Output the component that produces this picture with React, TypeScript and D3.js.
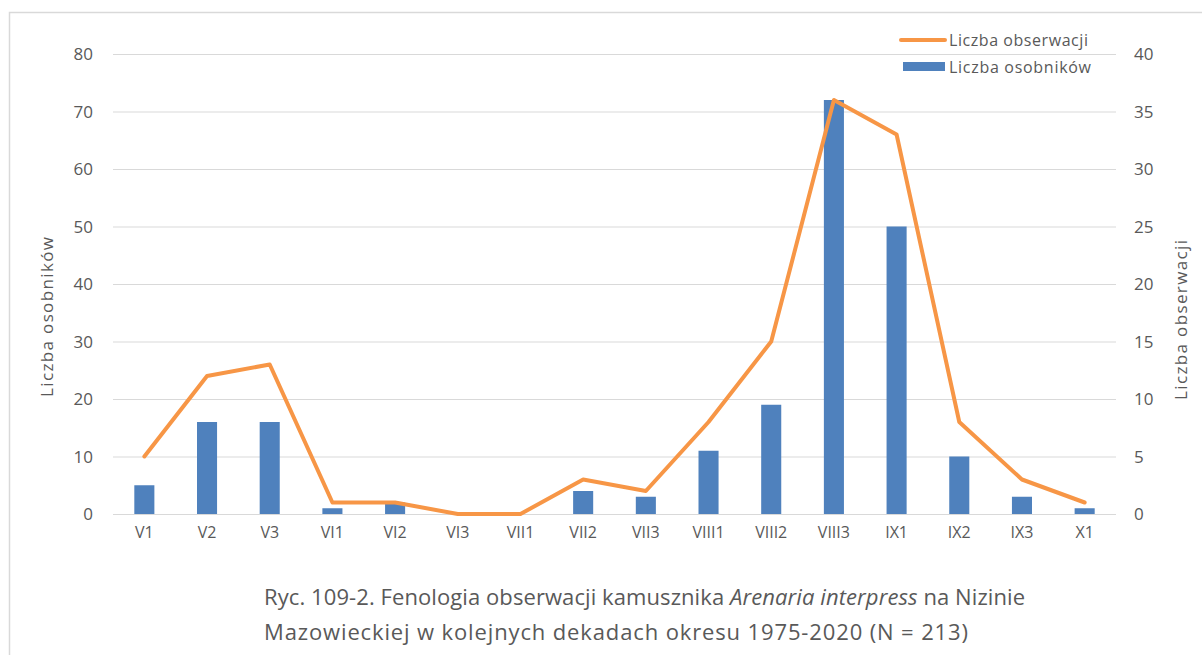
import { useEffect, useRef } from "react"
import * as d3 from "d3"

const categories = ["V1", "V2", "V3", "VI1", "VI2", "VI3", "VII1", "VII2", "VII3", "VIII1", "VIII2", "VIII3", "IX1", "IX2", "IX3", "X1"]
const individuals = [5, 16, 16, 1, 2, 0, 0, 4, 3, 11, 19, 72, 50, 10, 3, 1]
const observations = [5, 12, 13, 1, 1, 0, 0, 3, 2, 8, 15, 36, 33, 8, 3, 1]
const leftTicks = [0, 10, 20, 30, 40, 50, 60, 70, 80]
const rightTicks = [0, 5, 10, 15, 20, 25, 30, 35, 40]

const FONT = "'Open Sans', 'Noto Sans', sans-serif"
const TEXT = "#595959"

export default function App() {
  const svgRef = useRef<SVGSVGElement>(null)

  useEffect(() => {
    if (!svgRef.current) return
    const root = d3.select(svgRef.current)
    root.selectAll("*").remove()

    const W = 1202
    const H = 655
    const plot = { left: 113, right: 1116, top: 54, bottom: 514 }

    root.attr("width", W).attr("height", H).style("font-family", FONT)

    // frame (left and top edge visible)
    root.append("rect").attr("x", 0).attr("y", 0).attr("width", W).attr("height", H).attr("fill", "#fff")
    root.append("path").attr("d", `M9.5,${H} V12.5 H${W}`).attr("fill", "none").attr("stroke", "#d9d9d9").attr("stroke-width", 1.5)

    const x = d3.scaleBand().domain(categories).range([plot.left, plot.right])
    const yL = d3.scaleLinear().domain([0, 80]).range([plot.bottom, plot.top])
    const yR = d3.scaleLinear().domain([0, 40]).range([plot.bottom, plot.top])

    // gridlines
    root
      .append("g")
      .selectAll("line")
      .data(leftTicks)
      .enter()
      .append("line")
      .attr("x1", plot.left)
      .attr("x2", plot.right)
      .attr("y1", (d) => yL(d) + 0.5)
      .attr("y2", (d) => yL(d) + 0.5)
      .attr("stroke", "#d9d9d9")
      .attr("stroke-width", 1.2)

    // left axis labels
    root
      .append("g")
      .selectAll("text")
      .data(leftTicks)
      .enter()
      .append("text")
      .attr("x", 93)
      .attr("y", (d) => yL(d) + 6)
      .attr("text-anchor", "end")
      .attr("font-size", 17)
      .attr("fill", TEXT)
      .text((d) => d)

    // right axis labels
    root
      .append("g")
      .selectAll("text")
      .data(rightTicks)
      .enter()
      .append("text")
      .attr("x", 1134)
      .attr("y", (d) => yR(d) + 6)
      .attr("text-anchor", "start")
      .attr("font-size", 17)
      .attr("fill", TEXT)
      .text((d) => d)

    // category labels
    root
      .append("g")
      .selectAll("text")
      .data(categories)
      .enter()
      .append("text")
      .attr("x", (d) => (x(d) || 0) + x.bandwidth() / 2)
      .attr("y", 538)
      .attr("text-anchor", "middle")
      .attr("font-size", 16)
      .attr("fill", TEXT)
      .text((d) => d)

    // axis titles
    root
      .append("text")
      .attr("transform", `translate(53,317) rotate(-90)`)
      .attr("text-anchor", "middle")
      .attr("font-size", 17)
      .attr("textLength", 160)
      .attr("fill", TEXT)
      .text("Liczba osobników")
    root
      .append("text")
      .attr("transform", `translate(1187,320) rotate(-90)`)
      .attr("text-anchor", "middle")
      .attr("font-size", 17)
      .attr("textLength", 160)
      .attr("fill", TEXT)
      .text("Liczba obserwacji")

    // bars
    const barW = x.bandwidth() * 0.32
    root
      .append("g")
      .selectAll("rect")
      .data(individuals)
      .enter()
      .append("rect")
      .attr("x", (_, i) => (x(categories[i]) || 0) + (x.bandwidth() - barW) / 2)
      .attr("y", (d) => yL(d))
      .attr("width", barW)
      .attr("height", (d) => plot.bottom - yL(d))
      .attr("fill", "#4f81bd")

    // line
    const line = d3
      .line<number>()
      .x((_, i) => (x(categories[i]) || 0) + x.bandwidth() / 2)
      .y((d) => yR(d))
    root
      .append("path")
      .datum(observations)
      .attr("d", line)
      .attr("fill", "none")
      .attr("stroke", "#f79646")
      .attr("stroke-width", 4)
      .attr("stroke-linejoin", "round")
      .attr("stroke-linecap", "round")

    // legend
    const lg = root.append("g")
    lg.append("line").attr("x1", 901).attr("x2", 945).attr("y1", 40).attr("y2", 40).attr("stroke", "#f79646").attr("stroke-width", 4).attr("stroke-linecap", "round")
    lg.append("text").attr("x", 949).attr("y", 46).attr("font-size", 16).attr("textLength", 139).attr("fill", TEXT).text("Liczba obserwacji")
    lg.append("rect").attr("x", 903).attr("y", 62).attr("width", 42).attr("height", 9).attr("fill", "#4f81bd")
    lg.append("text").attr("x", 949).attr("y", 73).attr("font-size", 16).attr("textLength", 142).attr("fill", TEXT).text("Liczba osobników")

    // caption
    const c1 = root.append("text").attr("x", 264).attr("y", 605).attr("font-size", 22).attr("textLength", 761).attr("fill", TEXT)
    c1.append("tspan").text("Ryc. 109-2. Fenologia obserwacji kamusznika ")
    c1.append("tspan").attr("font-style", "italic").text("Arenaria interpress")
    c1.append("tspan").text(" na Nizinie")
    root
      .append("text")
      .attr("x", 264)
      .attr("y", 640)
      .attr("font-size", 22)
      .attr("textLength", 704)
      .attr("fill", TEXT)
      .text("Mazowieckiej w kolejnych dekadach okresu 1975-2020 (N = 213)")
  }, [])

  return (
    <div style={{ position: "absolute", left: 0, top: 0 }}>
      <svg ref={svgRef} style={{ display: "block" }}></svg>
    </div>
  )
}
